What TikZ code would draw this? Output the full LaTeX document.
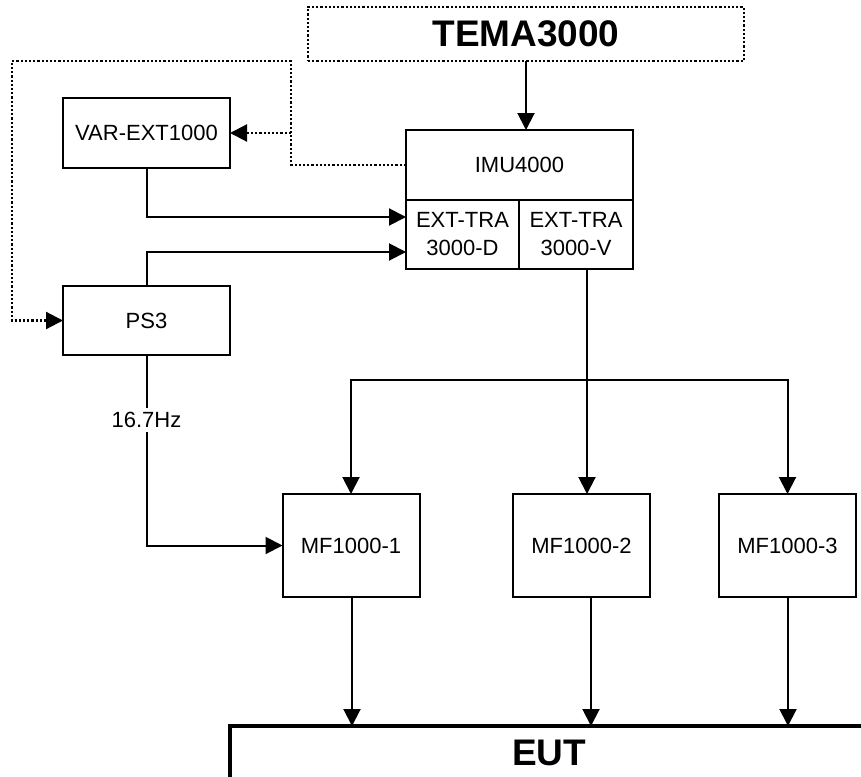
\documentclass[tikz,border=0pt]{standalone}
\usepackage{fontspec}
\setmainfont{Liberation Sans}
\usetikzlibrary{arrows.meta,calc}

\begin{document}
\begin{tikzpicture}[x=1pt,y=-1pt,
    box/.style={draw,line width=2pt,inner sep=0pt,outer sep=0pt,align=center,font=\fontsize{22}{28}\selectfont},
    big/.style={font=\fontsize{37}{40}\selectfont\bfseries},
    conn/.style={line width=2pt},
    dots/.style={line width=2.2pt,dash pattern=on 2.2pt off 2pt},
    >={Triangle[length=17pt,width=17pt]}]
    \useasboundingbox (0,0) rectangle (861,776);
    \node[box,dots,big,minimum width=436pt,minimum height=54pt] (tema) at (526,34) {TEMA3000};
    \node[box,minimum width=227pt,minimum height=70pt] (imu) at (519.5,165) {IMU4000};
    \node[box,minimum width=113pt,minimum height=69pt] (extd) at (462.5,234.5) {EXT-TRA\\3000-D};
    \node[box,minimum width=114pt,minimum height=69pt] (extv) at (576,234.5) {EXT-TRA\\3000-V};
    \node[box,minimum width=167pt,minimum height=70pt] (var) at (146.5,133) {VAR-EXT1000};
    \node[box,minimum width=167pt,minimum height=69pt] (ps3) at (146.5,320.5) {PS3};
    \foreach \n/\x in {1/351,2/581.5,3/787.5}
    {
      \node[box,minimum width=137pt,minimum height=103pt] (mf\n) at (\x,545.5) {MF1000-\n};
    }
    \node[box,big,line width=4pt,minimum width=638pt,minimum height=54pt] (eut) at (549,753) {EUT};
    \coordinate (dtop) at (291,61);
    \coordinate (dleft) at (12,61);
    \coordinate (split) at (587,380);
    \draw[dots,->] (imu.west) -| (dtop) -- (dleft) |- (ps3.west);
    \draw[dots,->] (dtop |- var.east) -- (var.east);
    \draw[conn,->] (tema.south) -- (tema.south |- imu.north);
    \draw[conn,->] (var.south) |- ($(extd.west)+(0,-17.5)$);
    \draw[conn,->] (ps3.north) |- ($(extd.west)+(0,17.5)$);
    \draw[conn,->] (split |- extv.south) -- (split |- mf2.north);
    \draw[conn,->] (split) -| (mf1.north);
    \draw[conn,->] (split) -| (mf3.north);
    \draw[conn,->] (ps3.south) |- node[pos=0.17,fill=white,inner sep=4pt,font=\fontsize{22}{26}\selectfont] (freq) {16.7Hz} (mf1.west);
    \foreach \x/\m in {352/mf1,591/mf2,788/mf3}
    {
      \draw[conn,->] (\m.south -| \x,0) -- (eut.north -| \x,0);
    }
  \end{tikzpicture}
\end{document}
